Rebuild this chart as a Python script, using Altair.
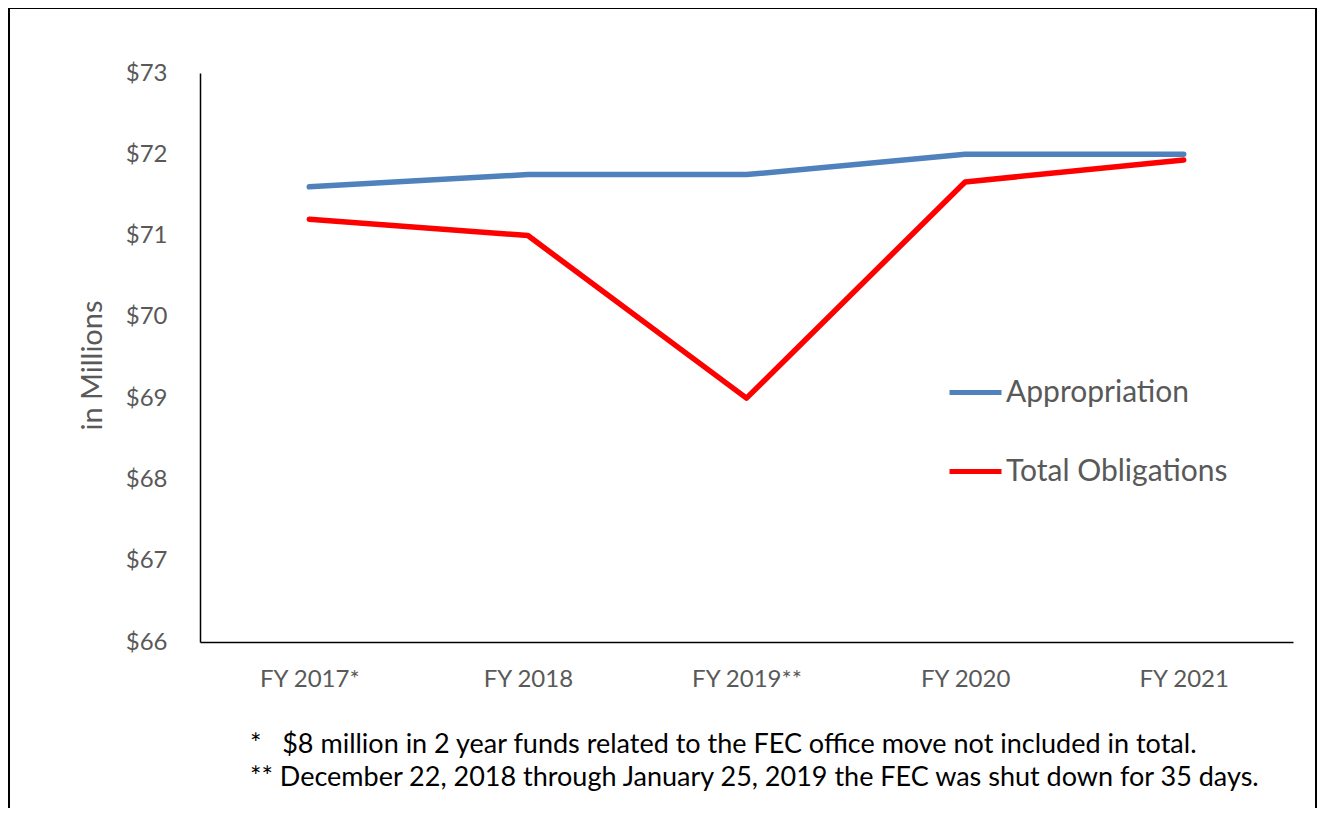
import altair as alt
import pandas as pd

years = ["FY 2017*", "FY 2018", "FY 2019**", "FY 2020", "FY 2021"]
appropriation = [71.6, 71.75, 71.75, 72.0, 72.0]
obligations = [71.2, 71.0, 69.0, 71.66, 71.93]
series_names = ["Appropriation", "Total Obligations"]
colors = ["#4F81BD", "#FF0000"]
y_ticks = [66, 67, 68, 69, 70, 71, 72, 73]
footnotes = [
    "*\u00a0\u00a0\u00a0$8 million in 2 year funds related to the FEC office move not included in total.",
    "** December 22, 2018 through January 25, 2019 the FEC was shut down for 35 days.",
]

rows = []
for y, a in zip(years, appropriation):
    rows.append({"year": y, "series": series_names[0], "value": a})
for y, o in zip(years, obligations):
    rows.append({"year": y, "series": series_names[1], "value": o})
df = pd.DataFrame(rows)

FONT = "Lato"
GRAY = "#595959"

lines = alt.Chart(df).mark_line(strokeWidth=5.5, strokeCap="round", strokeJoin="round").encode(
    x=alt.X("year:N", sort=years,
            scale=alt.Scale(type="point", padding=0.5),
            axis=alt.Axis(title=None, labelAngle=0, ticks=False, domainColor="black",
                          domainWidth=1.5, labelColor=GRAY, labelFontSize=24,
                          labelFont=FONT, labelPadding=25, grid=False)),
    y=alt.Y("value:Q", scale=alt.Scale(domain=[66, 73], nice=False, zero=False),
            axis=alt.Axis(title="in Millions", values=y_ticks, labelExpr="'$' + datum.value",
                          ticks=False, domainColor="black", domainWidth=1.5,
                          labelColor=GRAY, labelFontSize=24, labelFont=FONT,
                          labelPadding=33, grid=False, titleColor=GRAY,
                          titleFontSize=29, titleFont=FONT, titleFontWeight="normal",
                          titlePadding=18, titleY=292)),
    color=alt.Color("series:N", sort=series_names,
                    scale=alt.Scale(domain=series_names, range=colors),
                    legend=alt.Legend(title=None, orient="none", legendX=747, legendY=291,
                                      symbolType="stroke", symbolSize=2704,
                                      symbolStrokeWidth=5, labelFontSize=30,
                                      labelColor=GRAY, labelFont=FONT, labelOffset=2,
                                      labelLimit=0, rowPadding=35)),
)

frame = alt.Chart(pd.DataFrame({"d": [0]})).mark_rect(
    fill=None, stroke="black", strokeWidth=2
).encode(
    x=alt.value(-191), x2=alt.value(1116), y=alt.value(-65), y2=alt.value(760)
)

note_layers = []
for i, line in enumerate(footnotes):
    note_layers.append(
        alt.Chart(pd.DataFrame({"t": [line]})).mark_text(
            align="left", baseline="middle", fontSize=27, font=FONT, color="black"
        ).encode(text="t:N", x=alt.value(50), y=alt.value(672 + 33 * i))
    )

chart = alt.layer(frame, lines, *note_layers).properties(
    width=1093, height=569,
    padding={"left": 192, "top": 65, "right": 25, "bottom": 166},
    autosize=alt.AutoSizeParams(type="none"),
    background="white",
).configure_view(strokeWidth=0, stroke=None)

chart.save("out.html", embed_options={"renderer": "svg", "actions": False})
